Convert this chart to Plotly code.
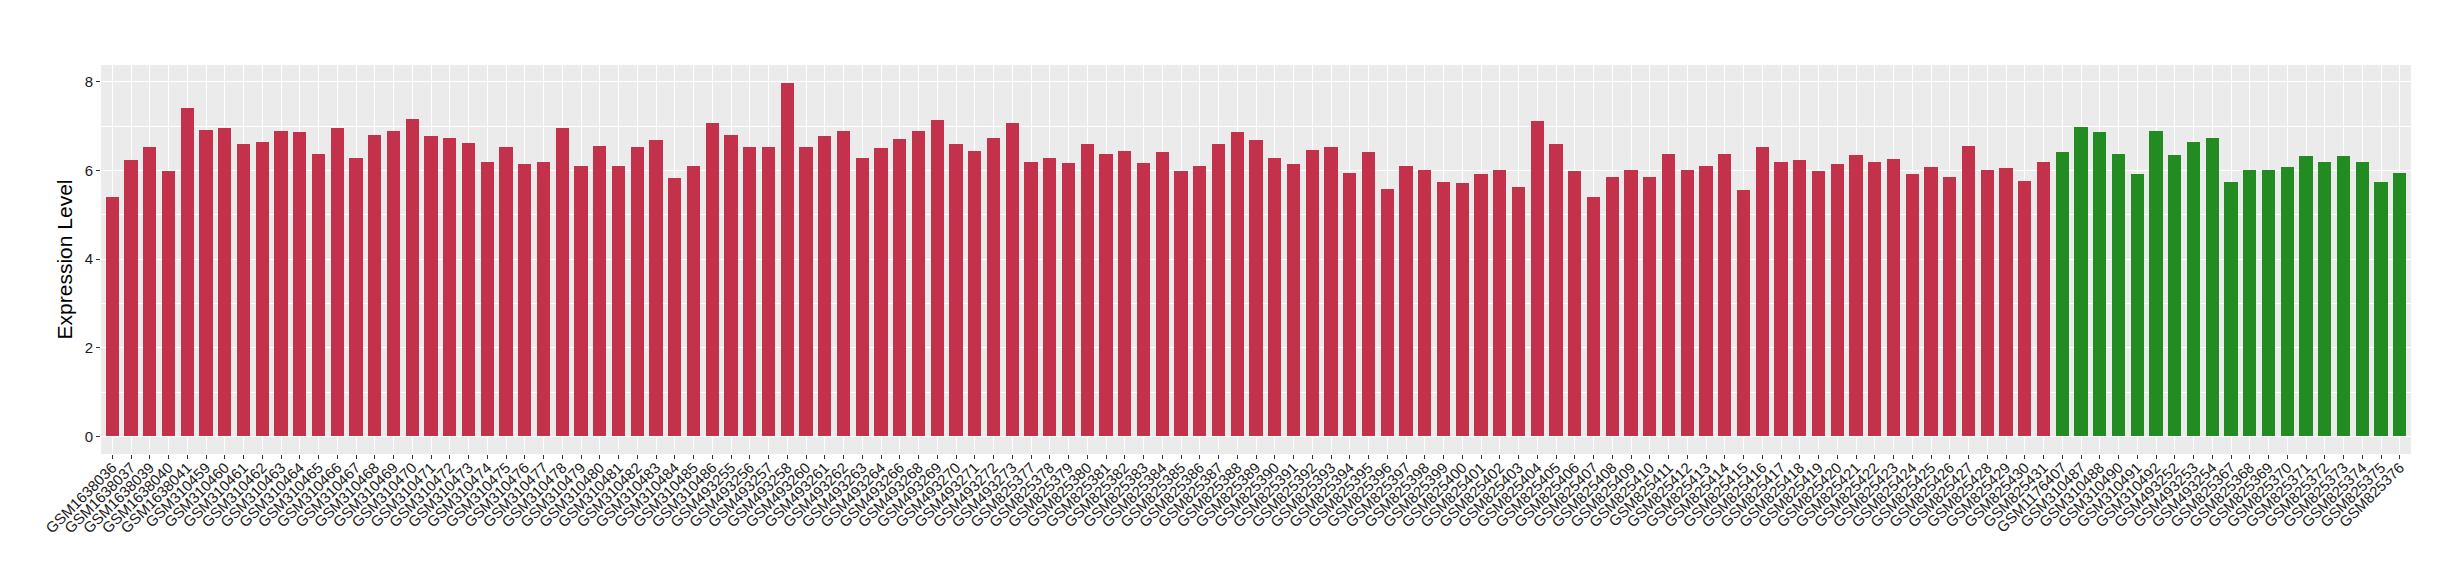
import plotly.graph_objects as go

samples = [
    "GSM1638036", "GSM1638037", "GSM1638039", "GSM1638040", "GSM1638041",
    "GSM310459", "GSM310460", "GSM310461", "GSM310462", "GSM310463", "GSM310464", "GSM310465",
    "GSM310466", "GSM310467", "GSM310468", "GSM310469", "GSM310470", "GSM310471", "GSM310472",
    "GSM310473", "GSM310474", "GSM310475", "GSM310476", "GSM310477", "GSM310478", "GSM310479",
    "GSM310480", "GSM310481", "GSM310482", "GSM310483", "GSM310484", "GSM310485", "GSM310486",
    "GSM493255", "GSM493256", "GSM493257", "GSM493258", "GSM493260", "GSM493261", "GSM493262",
    "GSM493263", "GSM493264", "GSM493266", "GSM493268", "GSM493269", "GSM493270", "GSM493271",
    "GSM493272", "GSM493273",
    "GSM825377", "GSM825378", "GSM825379", "GSM825380", "GSM825381", "GSM825382", "GSM825383",
    "GSM825384", "GSM825385", "GSM825386", "GSM825387", "GSM825388", "GSM825389", "GSM825390",
    "GSM825391", "GSM825392", "GSM825393", "GSM825394", "GSM825395", "GSM825396", "GSM825397",
    "GSM825398", "GSM825399", "GSM825400", "GSM825401", "GSM825402", "GSM825403", "GSM825404",
    "GSM825405", "GSM825406", "GSM825407", "GSM825408", "GSM825409", "GSM825410", "GSM825411",
    "GSM825412", "GSM825413", "GSM825414", "GSM825415", "GSM825416", "GSM825417", "GSM825418",
    "GSM825419", "GSM825420", "GSM825421", "GSM825422", "GSM825423", "GSM825424", "GSM825425",
    "GSM825426", "GSM825427", "GSM825428", "GSM825429", "GSM825430", "GSM825431",
    "GSM1176407", "GSM310487", "GSM310488", "GSM310490", "GSM310491", "GSM310492",
    "GSM493252", "GSM493253", "GSM493254",
    "GSM825367", "GSM825368", "GSM825369", "GSM825370", "GSM825371", "GSM825372", "GSM825373",
    "GSM825374", "GSM825375", "GSM825376",
]

values = [
    5.41, 6.23, 6.52, 5.98, 7.42,
    6.92, 6.95, 6.59, 6.65, 6.90, 6.86, 6.36,
    6.95, 6.29, 6.81, 6.88, 7.15, 6.77, 6.74,
    6.61, 6.18, 6.54, 6.14, 6.18, 6.95, 6.09,
    6.56, 6.09, 6.54, 6.68, 5.82, 6.09, 7.08,
    6.81, 6.52, 6.52, 7.98, 6.52, 6.77, 6.90,
    6.29, 6.50, 6.72, 6.88, 7.13, 6.59, 6.43,
    6.74, 7.08,
    6.18, 6.29, 6.16, 6.59, 6.38, 6.43, 6.16,
    6.41, 5.98, 6.11, 6.59, 6.86, 6.68, 6.29,
    6.14, 6.47, 6.52, 5.95, 6.41, 5.57, 6.11,
    6.02, 5.73, 5.71, 5.93, 6.02, 5.62, 7.11,
    6.59, 5.98, 5.41, 5.86, 6.02, 5.86, 6.38,
    6.02, 6.09, 6.36, 5.55, 6.52, 6.20, 6.23,
    5.98, 6.14, 6.34, 6.18, 6.25, 5.93, 6.07,
    5.86, 6.56, 6.00, 6.05, 5.77, 6.18,
    6.41, 6.97, 6.86, 6.38, 5.93, 6.90,
    6.34, 6.65, 6.74,
    5.75, 6.00, 6.00, 6.07, 6.32, 6.20, 6.32,
    6.18, 5.73, 5.95,
]

groups = ["A"] * 104 + ["B"] * 19
group_colors = {"A": "#C3314A", "B": "#228B22"}

fig = go.Figure(
    go.Bar(
        x=samples,
        y=values,
        marker=dict(color=[group_colors[g] for g in groups], line=dict(width=0)),
        width=0.7,
        showlegend=False,
    )
)

fig.update_layout(
    width=2460,
    height=580,
    paper_bgcolor="white",
    plot_bgcolor="#EBEBEB",
    margin=dict(l=93, r=57, t=57, b=134),
    font=dict(family="Liberation Sans, Arial, sans-serif", color="#1A1A1A"),
    bargap=0,
)

fig.update_xaxes(
    type="category",
    range=[-0.6, len(samples) - 0.4],
    tickmode="linear",
    tick0=0,
    dtick=1,
    tickangle=-45,
    tickfont=dict(size=15, color="#1A1A1A"),
    ticks="outside",
    ticklen=4,
    tickwidth=1,
    tickcolor="#333333",
    ticklabelstandoff=-6,
    showgrid=True,
    gridcolor="white",
    gridwidth=1.1,
    zeroline=False,
    showline=False,
    automargin=False,
)

fig.update_yaxes(
    range=[-0.399, 8.379],
    tickvals=[0, 2, 4, 6, 8],
    tickfont=dict(size=15, color="#1A1A1A"),
    ticks="outside",
    ticklen=4,
    tickwidth=1,
    tickcolor="#333333",
    showgrid=True,
    gridcolor="white",
    gridwidth=1.1,
    minor=dict(tickvals=[1, 3, 5, 7], showgrid=True, gridcolor="white", gridwidth=0.55, ticks=""),
    zeroline=False,
    showline=False,
    title=dict(text="Expression Level", font=dict(size=21, color="black"), standoff=6),
)

fig.write_html("out.html")
